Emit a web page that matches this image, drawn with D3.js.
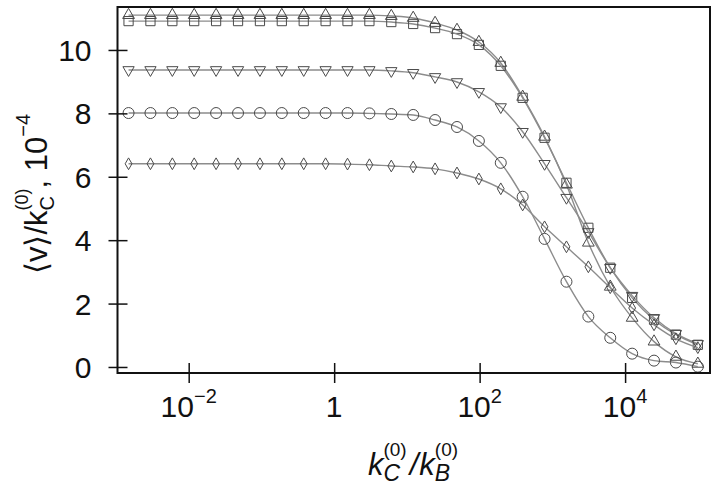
<!DOCTYPE html>
<html>
<head>
<meta charset="utf-8">
<script src="https://cdn.jsdelivr.net/npm/d3@7"></script>
<style>
body { margin: 0; background: #fff; }
text { font-family: "Liberation Sans", Arial, sans-serif; fill: #111; }
</style>
</head>
<body>
<div id="chart"></div>
<script>
// k_C/k_B values (doubling steps)
var xVals = [0.00149, 0.00298, 0.00596, 0.0119, 0.0238, 0.0477, 0.0954, 0.1907, 0.3815,
             0.763, 1.526, 3.052, 6.104, 12.21, 24.41, 48.83, 97.66, 195.3, 390.6,
             781.25, 1562.5, 3125, 6250, 12500, 25000, 50000, 100000];

// <v>/k_C, units of 1e-4
var triUpVals = [11.10, 11.10, 11.10, 11.10, 11.10, 11.10, 11.10, 11.10, 11.10, 11.10, 11.10, 11.10,
                 11.07, 11.01, 10.85, 10.63, 10.25, 9.59, 8.52, 7.26, 5.75, 3.92, 2.53, 1.55, 0.80, 0.32, 0.10];
var squareVals = [10.91, 10.91, 10.91, 10.91, 10.91, 10.91, 10.91, 10.91, 10.91, 10.91, 10.91, 10.91,
                  10.88, 10.82, 10.69, 10.50, 10.16, 9.50, 8.49, 7.23, 5.81, 4.39, 3.13, 2.18, 1.49, 1.02, 0.70];
var triDownVals = [9.37, 9.37, 9.37, 9.37, 9.37, 9.37, 9.37, 9.37, 9.37, 9.37, 9.37, 9.37,
                   9.34, 9.28, 9.15, 8.99, 8.68, 8.20, 7.42, 6.41, 5.34, 4.26, 3.13, 2.25, 1.55, 1.05, 0.73];
var circleVals = [8.01, 8.01, 8.01, 8.01, 8.01, 8.01, 8.01, 8.01, 8.01, 8.01, 8.01, 8.00,
                  7.98, 7.95, 7.79, 7.57, 7.13, 6.44, 5.37, 4.04, 2.69, 1.59, 0.92, 0.42, 0.20, 0.14, 0.01];
var diamondVals = [6.41, 6.41, 6.41, 6.41, 6.41, 6.41, 6.41, 6.41, 6.41, 6.41, 6.40, 6.38,
                   6.34, 6.31, 6.25, 6.12, 5.93, 5.62, 5.11, 4.42, 3.79, 3.16, 2.50, 1.86, 1.33, 0.89, 0.61];

var yTicks = [0, 2, 4, 6, 8, 10];
var xTickVals = [1e-2, 1, 1e2, 1e4];
var xTickExps = ["-2", "", "2", "4"];

// builds a label out of tspans, returns its width
function rich(text, parts) {
    var cursor = 0, prevStart = 0;
    parts.forEach(function(p) {
        var start = p.stack ? prevStart : cursor + (p.gap || 0);
        var ts = text.append("tspan")
            .attr("x", start)
            .attr("y", p.sh || 0)
            .style("font-size", p.fs + "px")
            .text(p.t);
        if (p.it) ts.style("font-style", "italic");
        var w = ts.node().getComputedTextLength();
        prevStart = start;
        cursor = Math.max(cursor, start + w);
    });
    return cursor;
}

function drawChart() {
    var W = 721, H = 489;
    var mLeft = 117.5, mRight = 710, mTop = 7, mBottom = 373;

    var svg = d3.select("#chart").append("svg")
        .attr("width", W)
        .attr("height", H);

    var x = d3.scaleLog().domain([0.00105, 147000]).range([mLeft, mRight]);
    var y = d3.scaleLinear().domain([-0.19, 11.355]).range([mBottom, mTop]);

    var series = [
        {vals: triUpVals, sym: d3.symbolTriangle, size: 60, rot: 0},
        {vals: squareVals, sym: d3.symbolSquare, size: 85, rot: 0},
        {vals: triDownVals, sym: d3.symbolTriangle, size: 55, rot: 180},
        {vals: circleVals, sym: d3.symbolCircle, size: 95, rot: 0},
        {vals: diamondVals, sym: d3.symbolDiamond, size: 40, rot: 0}
    ];

    var line = d3.line()
        .x(function(d) { return x(d[0]); })
        .y(function(d) { return y(d[1]); })
        .curve(d3.curveMonotoneX);

    series.forEach(function(s) {
        var pts = xVals.map(function(v, i) { return [v, s.vals[i]]; });

        svg.append("path")
            .datum(pts)
            .attr("d", line)
            .attr("fill", "none")
            .attr("stroke", "#8c8c8c")
            .attr("stroke-width", 1.4);

        svg.append("g").selectAll("path")
            .data(pts)
            .enter()
            .append("path")
            .attr("d", d3.symbol().type(s.sym).size(s.size))
            .attr("transform", function(d) {
                return "translate(" + x(d[0]) + "," + y(d[1]) + ") rotate(" + s.rot + ")";
            })
            .attr("fill", "none")
            .attr("stroke", "#4a4a4a")
            .attr("stroke-width", 1);
    });

    // frame
    svg.append("rect")
        .attr("x", mLeft)
        .attr("y", mTop)
        .attr("width", mRight - mLeft)
        .attr("height", mBottom - mTop)
        .attr("fill", "none")
        .attr("stroke", "#111")
        .attr("stroke-width", 2);

    // y axis
    var yAxis = svg.append("g")
        .attr("transform", "translate(" + mLeft + ",0)")
        .call(d3.axisLeft(y).tickValues(yTicks).tickSize(9).tickPadding(17));
    yAxis.select(".domain").remove();
    yAxis.selectAll(".tick line").attr("x1", 10).attr("stroke", "#111").attr("stroke-width", 1.5);
    yAxis.selectAll(".tick text")
        .attr("dy", "0.35em")
        .style("font-family", "Liberation Sans, Arial, sans-serif")
        .style("font-size", "30px")
        .attr("fill", "#111");

    // x axis
    var xAxis = svg.append("g")
        .attr("transform", "translate(0," + mBottom + ")")
        .call(d3.axisBottom(x).tickValues(xTickVals).tickSize(10).tickFormat(""));
    xAxis.select(".domain").remove();
    xAxis.selectAll(".tick line").attr("y1", -10).attr("stroke", "#111").attr("stroke-width", 1.5);

    xTickVals.forEach(function(v, i) {
        var g = svg.append("g");
        var t = g.append("text");
        var parts = [{t: xTickExps[i] === "" ? "1" : "10", fs: 30}];
        if (xTickExps[i] !== "") parts.push({t: xTickExps[i].replace("-", "\u2212"), fs: 20, sh: -14});
        var w = rich(t, parts);
        g.attr("transform", "translate(" + (x(v) - w / 2) + ",417)");
    });

    // x label
    var gx = svg.append("g");
    var tx = gx.append("text");
    var wx = rich(tx, [
        {t: "k", fs: 31, it: true},
        {t: "C", fs: 23, it: true, sh: 6},
        {t: "(0)", fs: 19, sh: -19, stack: true},
        {t: "/", fs: 31, it: true, gap: 3},
        {t: "k", fs: 31, it: true, gap: 1},
        {t: "B", fs: 23, it: true, sh: 6},
        {t: "(0)", fs: 19, sh: -19, stack: true}
    ]);
    gx.attr("transform", "translate(" + (413 - wx / 2) + ",475)");

    // y label
    var gy = svg.append("g");
    var ty = gy.append("text");
    var wy = rich(ty, [
        {t: "\u27E8v\u27E9/k", fs: 31},
        {t: "C", fs: 20, sh: 7},
        {t: "(0)", fs: 18, sh: -19, stack: true},
        {t: ", 10", fs: 31},
        {t: "\u22124", fs: 20, sh: -17}
    ]);
    gy.attr("transform", "translate(47,194) rotate(-90) translate(" + (-wy / 2) + ",0)");
}

drawChart();
</script>
</body>
</html>
